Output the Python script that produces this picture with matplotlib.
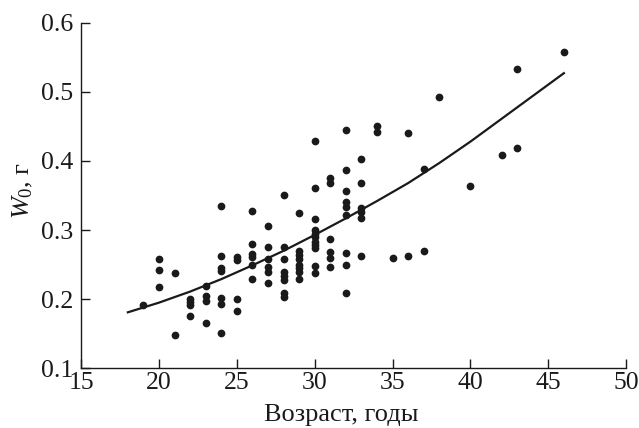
import matplotlib
matplotlib.use('Agg')
import matplotlib.pyplot as plt

plt.rcParams['font.family'] = ['Liberation Serif', 'DejaVu Serif']
plt.rcParams['mathtext.fontset'] = 'custom'
plt.rcParams['mathtext.rm'] = 'Liberation Serif'
plt.rcParams['mathtext.it'] = 'Liberation Serif:italic'

# Measured points: age (years) -> W0 (g)
age = [19,
       20, 20, 20,
       21, 21,
       22, 22, 22, 22,
       23, 23, 23, 23,
       24, 24, 24, 24, 24, 24, 24,
       25, 25, 25, 25,
       26, 26, 26, 26, 26, 26,
       27, 27, 27, 27, 27, 27,
       28, 28, 28, 28, 28, 28, 28, 28,
       29, 29, 29, 29, 29, 29, 29, 29,
       30, 30, 30, 30, 30, 30, 30, 30, 30, 30, 30,
       31, 31, 31, 31, 31, 31,
       32, 32, 32, 32, 32, 32, 32, 32, 32,
       33, 33, 33, 33, 33, 33,
       34, 34,
       35,
       36, 36,
       37, 37,
       38,
       40,
       42,
       43, 43,
       46]
w0 = [0.191,
      0.258, 0.242, 0.217,
      0.238, 0.148,
      0.200, 0.196, 0.192, 0.175,
      0.219, 0.204, 0.197, 0.166,
      0.335, 0.263, 0.245, 0.241, 0.202, 0.193, 0.151,
      0.261, 0.257, 0.200, 0.183,
      0.327, 0.280, 0.266, 0.261, 0.249, 0.229,
      0.306, 0.275, 0.258, 0.246, 0.240, 0.224,
      0.351, 0.276, 0.258, 0.240, 0.234, 0.228, 0.209, 0.203,
      0.324, 0.270, 0.264, 0.258, 0.250, 0.245, 0.240, 0.229,
      0.429, 0.361, 0.316, 0.300, 0.295, 0.290, 0.283, 0.278, 0.274, 0.248, 0.238,
      0.376, 0.368, 0.287, 0.268, 0.259, 0.247,
      0.445, 0.387, 0.357, 0.340, 0.334, 0.322, 0.267, 0.250, 0.209,
      0.403, 0.368, 0.332, 0.326, 0.318, 0.263,
      0.451, 0.442,
      0.260,
      0.441, 0.263,
      0.389, 0.269,
      0.492,
      0.364,
      0.408,
      0.533, 0.418,
      0.557]

# Trend curve
curve_age = [18, 20, 22, 24, 26, 28, 30, 32, 34, 36, 38, 40, 42, 44, 46]
curve_w0 = [0.181, 0.195, 0.211, 0.229, 0.249, 0.270, 0.293, 0.317,
            0.342, 0.368, 0.397, 0.428, 0.461, 0.494, 0.527]

x_ticks = [15, 20, 25, 30, 35, 40, 45, 50]
y_ticks = [0.1, 0.2, 0.3, 0.4, 0.5, 0.6]

fig = plt.figure(figsize=(6.39, 4.28), dpi=100)
ax = fig.add_axes([0.127, 0.1395, 0.853, 0.8075])

ax.scatter(age, w0, s=31, color='#1a1a1a', linewidths=0, zorder=3)
ax.plot(curve_age, curve_w0, color='#1a1a1a', lw=1.6, zorder=2)

ax.set_xlim(15, 50)
ax.set_ylim(0.1, 0.6)
ax.set_xticks(x_ticks)
ax.set_yticks(y_ticks)
ax.set_xticklabels([str(t) for t in x_ticks])
ax.set_yticklabels([f'{t:.1f}' for t in y_ticks])

ax.spines['top'].set_visible(False)
ax.spines['right'].set_visible(False)
for s in ['left', 'bottom']:
    ax.spines[s].set_linewidth(1.0)
    ax.spines[s].set_color('#1a1a1a')

ax.tick_params(direction='in', length=6.5, width=1.0, labelsize=18.5,
               colors='#1a1a1a')
ax.tick_params(axis='x', pad=3)
ax.tick_params(axis='y', pad=6)

ax.set_xlabel('Возраст, годы', fontsize=19, color='#1a1a1a')
ax.set_ylabel(r'$W_0$, г', fontsize=19, color='#1a1a1a')
ax.xaxis.set_label_coords(0.4766, -0.103)
ax.yaxis.set_label_coords(-0.084, 0.514)

fig.savefig('out.png', dpi=100)
